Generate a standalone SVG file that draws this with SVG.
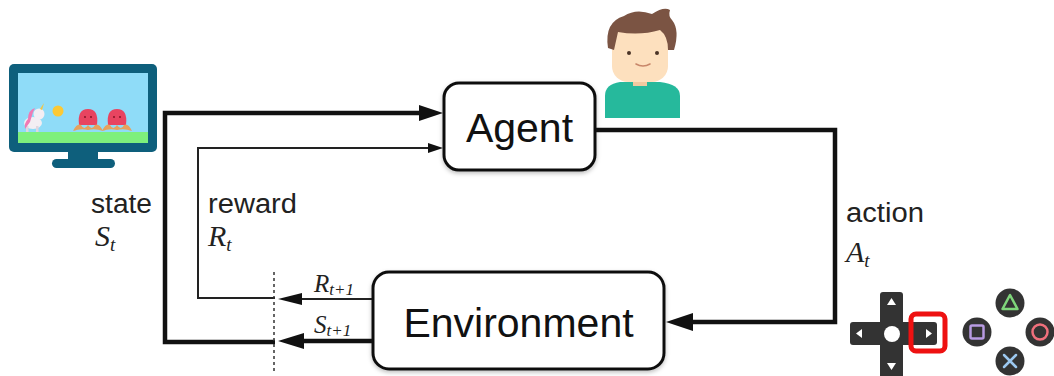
<svg xmlns="http://www.w3.org/2000/svg" width="1054" height="376" viewBox="0 0 1054 376">
  <defs>
    <filter id="soft" x="-10%" y="-10%" width="120%" height="130%">
      <feDropShadow dx="0" dy="2" stdDeviation="2" flood-color="#000" flood-opacity="0.25"/>
    </filter>
    <style>
      .box { fill: #fff; stroke: #111; stroke-width: 3; }
      .title { font-family: "Liberation Sans", Arial, sans-serif; fill: #111; }
      .lbl { font-family: "Liberation Sans", Arial, sans-serif; font-size: 27px; fill: #222; }
      .sym { font-family: "Liberation Serif", "Times New Roman", serif; font-style: italic; fill: #222; }
      .thick { fill: none; stroke: #111; stroke-width: 4.5; stroke-linejoin: miter; }
      .thin { fill: none; stroke: #222; stroke-width: 2; stroke-linejoin: miter; }
      .head { fill: #111; }
      .pad { fill: #333; }
      .arw { fill: #fff; }
    </style>
  </defs>

  <rect width="1054" height="376" fill="#fff"/>

  <!-- game screen icon -->
  <g id="monitor">
    <rect x="9" y="64" width="148" height="88" rx="5" fill="#0e5f7c"/>
    <rect x="18" y="73" width="130" height="70" fill="#8fdcf8"/>
    <rect x="18" y="132" width="130" height="11" fill="#7ef07c"/>
    <rect x="68" y="150" width="30" height="11" fill="#0e5f7c"/>
    <rect x="52" y="159" width="63" height="9" rx="4.5" fill="#0e5f7c"/>
    <!-- unicorn -->
    <ellipse cx="33" cy="123" rx="9" ry="6" fill="#f3eef3"/>
    <rect x="26" y="126" width="2.5" height="6" fill="#e0d6e0"/>
    <rect x="36" y="126" width="2.5" height="6" fill="#e0d6e0"/>
    <circle cx="39" cy="114" r="5.5" fill="#f3eef3"/>
    <path d="M35 108 Q28 110 28 119 Q24 123 25 129 L30 122 L33 112 Z" fill="#f07ab4"/>
    <path d="M40 109 L44 103 L42 110 Z" fill="#f5c542"/>
    <!-- sun -->
    <circle cx="58" cy="111" r="5.5" fill="#fcc934"/>
    <!-- octopi -->
    <g>
      <path d="M79 125 Q77 109 88 109 Q99 109 97 125 Z" fill="#e84460"/>
      <path d="M73 131 Q77 123 81 125 Q84 131 88 125 Q92 131 95 125 Q99 123 103 131 Q95 128 88 130 Q81 128 73 131 Z" fill="#e7a15c"/>
      <circle cx="85" cy="117" r="0.9" fill="#7a1020"/>
      <circle cx="91" cy="117" r="0.9" fill="#7a1020"/>
    </g>
    <g>
      <path d="M108 125 Q106 109 117 109 Q128 109 126 125 Z" fill="#e84460"/>
      <path d="M102 131 Q106 123 110 125 Q113 131 117 125 Q121 131 124 125 Q128 123 132 131 Q124 128 117 130 Q110 128 102 131 Z" fill="#e7a15c"/>
      <circle cx="114" cy="117" r="0.9" fill="#7a1020"/>
      <circle cx="120" cy="117" r="0.9" fill="#7a1020"/>
    </g>
  </g>

  <!-- person icon -->
  <g id="person">
    <path d="M605 118 L605 96 Q605 84 620 82 L660 82 Q680 84 680 96 L680 118 Z" fill="#26b99c"/>
    <rect x="633" y="72" width="14" height="14" fill="#f1c9a0"/>
    <rect x="612" y="26" width="56" height="56" rx="16" fill="#fde0be"/>
    <path d="M608 48 Q604 22 624 16 Q636 8 652 14 Q664 6 670 10 Q668 16 672 20 Q680 30 674 50 L668 50 Q668 36 660 30 Q640 36 618 32 L614 50 Z" fill="#7b5443"/>
    <circle cx="629" cy="53" r="2" fill="#4a3326"/>
    <circle cx="657" cy="53" r="2" fill="#4a3326"/>
    <path d="M636 64 Q643 68 650 64" fill="none" stroke="#c8876a" stroke-width="1.6" stroke-linecap="round"/>
  </g>

  <!-- controller icon -->
  <g id="controller">
    <rect x="880" y="292" width="23" height="90" rx="3" class="pad"/>
    <rect x="850" y="322" width="87" height="23" rx="3" class="pad"/>
    <circle cx="892" cy="334" r="8" fill="#fff"/>
    <polygon points="891.5,298 887,305 896,305" class="arw"/>
    <polygon points="891.5,370 887,363 896,363" class="arw"/>
    <polygon points="856,333.5 862,329 862,338" class="arw"/>
    <polygon points="932,333.5 926,329 926,338" class="arw"/>
    <rect x="911" y="314" width="34" height="37" rx="5" fill="none" stroke="#ee1111" stroke-width="5"/>
    <circle cx="1010" cy="303" r="14.5" class="pad"/>
    <polygon points="1010,295 1002.5,309 1017.5,309" fill="none" stroke="#7fd67a" stroke-width="2.5" stroke-linejoin="round"/>
    <circle cx="977" cy="332" r="14.5" class="pad"/>
    <rect x="970.5" y="325.5" width="13" height="13" rx="1.5" fill="none" stroke="#b89be2" stroke-width="2.5"/>
    <circle cx="1040" cy="332" r="14.5" class="pad"/>
    <circle cx="1040" cy="332" r="7.5" fill="none" stroke="#f0707c" stroke-width="2.5"/>
    <circle cx="1010" cy="361" r="14.5" class="pad"/>
    <path d="M1004 355 L1016 367 M1016 355 L1004 367" stroke="#9cc8f0" stroke-width="2.5" stroke-linecap="round"/>
  </g>

  <!-- loop connectors -->
  <g id="connectors">
    <!-- state: env -> agent -->
    <path class="thick" d="M275 342 L165 342 L165 113 L422 113"/>
    <polygon class="head" points="443,113 419,105 419,121"/>
    <!-- reward: env -> agent -->
    <path class="thin" d="M275 298 L198 298 L198 148 L430 148"/>
    <polygon class="head" points="443,148 428,143 428,153"/>
    <!-- action: agent -> env -->
    <path class="thick" d="M595 130 L835 130 L835 322 L690 322"/>
    <polygon class="head" points="666,322 693,313 693,331"/>
    <!-- R(t+1) out of env -->
    <path class="thin" d="M373 299 L296 299"/>
    <polygon class="head" points="278,299 302,293 302,305"/>
    <!-- S(t+1) out of env -->
    <path class="thick" d="M373 341 L300 341"/>
    <polygon class="head" points="278,341 304,333 304,349"/>
    <!-- time-step boundary -->
    <line x1="274" y1="272" x2="274" y2="372" stroke="#333" stroke-width="1.5" stroke-dasharray="3,3"/>
  </g>

  <g id="agent">
    <rect class="box" x="444" y="83" width="151" height="87" rx="15" filter="url(#soft)"/>
    <text class="title" x="519.5" y="142" font-size="41" text-anchor="middle">Agent</text>
  </g>

  <g id="environment">
    <rect class="box" x="373" y="272" width="291" height="97" rx="16" filter="url(#soft)"/>
    <text class="title" x="518.5" y="337" font-size="41" text-anchor="middle">Environment</text>
  </g>

  <!-- labels -->
  <g id="labels">
    <text class="lbl" x="91" y="213" textLength="61" lengthAdjust="spacingAndGlyphs">state</text>
    <text class="sym" x="95" y="246" font-size="30">S<tspan font-size="19" dy="5">t</tspan></text>
    <text class="lbl" x="208" y="213" textLength="89" lengthAdjust="spacingAndGlyphs">reward</text>
    <text class="sym" x="208" y="246" font-size="30">R<tspan font-size="19" dy="5">t</tspan></text>
    <text class="lbl" x="846" y="222" textLength="78" lengthAdjust="spacingAndGlyphs">action</text>
    <text class="sym" x="846" y="262" font-size="30">A<tspan font-size="19" dy="5">t</tspan></text>
    <text class="sym" x="314" y="292" font-size="25">R<tspan font-size="17" dy="3">t+1</tspan></text>
    <text class="sym" x="314" y="333" font-size="25">S<tspan font-size="17" dy="3">t+1</tspan></text>
  </g>
</svg>
